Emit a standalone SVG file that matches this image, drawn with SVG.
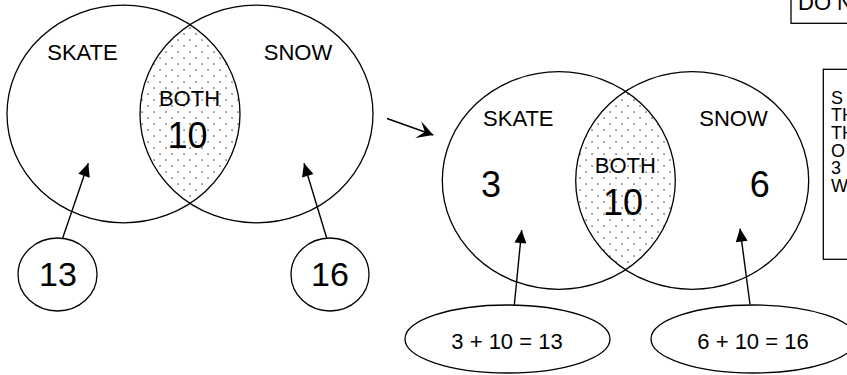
<svg xmlns="http://www.w3.org/2000/svg" width="847" height="375" viewBox="0 0 847 375">
  <style>
    .outline { fill: none; stroke: #000; stroke-width: 1.3; }
    .node { fill: #fff; stroke: #000; stroke-width: 1.3; }
    .lbl { font-family: "Liberation Sans", Arial, sans-serif; font-size: 22px; fill: #000; text-anchor: middle; }
    .num { font-family: "Liberation Sans", Arial, sans-serif; font-size: 36px; fill: #000; text-anchor: middle; }
    .cnum { font-family: "Liberation Sans", Arial, sans-serif; font-size: 34px; fill: #000; text-anchor: middle; }
    .note { font-family: "Liberation Sans", Arial, sans-serif; font-size: 18px; fill: #000; }
    .conn { fill: none; stroke: #000; stroke-width: 1.4; }
  </style>
  <defs>
    <pattern id="dots" patternUnits="userSpaceOnUse" x="0" y="0" width="12" height="12">
      <rect x="3.4" y="9.4" width="1.3" height="1.3" fill="#333"/>
      <rect x="9.4" y="3.4" width="1.3" height="1.3" fill="#333"/>
    </pattern>
    <clipPath id="clipL1"><ellipse cx="123.5" cy="114" rx="116.5" ry="108.8"/></clipPath>
    <clipPath id="clipR1"><ellipse cx="558.8" cy="180.5" rx="116.5" ry="108.8"/></clipPath>
    <marker id="tri" markerUnits="userSpaceOnUse" markerWidth="14" markerHeight="12" viewBox="0 0 12 11" refX="12" refY="5.5" orient="auto">
      <path d="M0,0 L12,5.5 L0,11 z" fill="#000"/>
    </marker>
    <marker id="stealth" markerUnits="userSpaceOnUse" markerWidth="18" markerHeight="20" viewBox="-17 -10 18 20" refX="0" refY="0" orient="auto">
      <path d="M0,0 L-16,-9 L-9,0 L-16,9 z" fill="#000"/>
    </marker>
  </defs>

  <!-- Left Venn diagram -->
  <g id="venn-left-both-shade">
    <ellipse cx="256.5" cy="114" rx="116.5" ry="108.8" fill="url(#dots)" clip-path="url(#clipL1)"/>
  </g>
  <g id="venn-left-skate">
    <ellipse class="outline" cx="123.5" cy="114" rx="116.5" ry="108.8"/>
    <text class="lbl" x="82.5" y="60">SKATE</text>
  </g>
  <g id="venn-left-snow">
    <ellipse class="outline" cx="256.5" cy="114" rx="116.5" ry="108.8"/>
    <text class="lbl" x="298" y="60">SNOW</text>
  </g>
  <g id="venn-left-both">
    <text class="lbl" x="189.5" y="106">BOTH</text>
    <text class="num" x="187.5" y="148">10</text>
  </g>
  <g id="circle-13">
    <ellipse class="node" cx="57.5" cy="274.5" rx="39.5" ry="36.5"/>
    <text class="cnum" x="58" y="286">13</text>
  </g>
  <g id="circle-16">
    <ellipse class="node" cx="330" cy="274.5" rx="39" ry="36.5"/>
    <text class="cnum" x="330" y="286">16</text>
  </g>

  <!-- Right Venn diagram -->
  <g id="venn-right-both-shade">
    <ellipse cx="692.2" cy="180.5" rx="116.5" ry="108.8" fill="url(#dots)" clip-path="url(#clipR1)"/>
  </g>
  <g id="venn-right-skate">
    <ellipse class="outline" cx="558.8" cy="180.5" rx="116.5" ry="108.8"/>
    <text class="lbl" x="518.3" y="126">SKATE</text>
    <text class="num" x="491" y="197">3</text>
  </g>
  <g id="venn-right-snow">
    <ellipse class="outline" cx="692.2" cy="180.5" rx="116.5" ry="108.8"/>
    <text class="lbl" x="733.5" y="126">SNOW</text>
    <text class="num" x="759.7" y="197">6</text>
  </g>
  <g id="venn-right-both">
    <text class="lbl" x="625.3" y="172.7">BOTH</text>
    <text class="num" x="623" y="215">10</text>
  </g>
  <g id="ellipse-13">
    <ellipse class="node" cx="507.5" cy="339" rx="102.5" ry="34"/>
    <text class="lbl" x="507" y="349">3 + 10 = 13</text>
  </g>
  <g id="ellipse-16">
    <ellipse class="node" cx="753.5" cy="339" rx="102.5" ry="34"/>
    <text class="lbl" x="753" y="349">6 + 10 = 16</text>
  </g>

  <!-- Notes -->
  <g id="note-top">
    <rect class="node" x="791" y="-10" width="100" height="33.3"/>
    <text class="lbl" x="798" y="10" style="text-anchor:start">DO N</text>
  </g>
  <g id="note-right">
    <rect class="node" x="823.3" y="69.3" width="60" height="190"/>
    <text class="note" x="831" y="103.5">S</text>
    <text class="note" x="831" y="121.2">TH</text>
    <text class="note" x="831" y="138.9">TH</text>
    <text class="note" x="831" y="156.6">O</text>
    <text class="note" x="831" y="174.3">3</text>
    <text class="note" x="831" y="192">W</text>
  </g>

  <!-- Connectors -->
  <g id="connectors">
    <line class="conn" x1="62.7" y1="238" x2="88.3" y2="163.3" marker-end="url(#tri)"/>
    <line class="conn" x1="326.7" y1="238" x2="304" y2="163.3" marker-end="url(#tri)"/>
    <line class="conn" x1="387" y1="118.5" x2="433.3" y2="135" marker-end="url(#stealth)"/>
    <line class="conn" x1="514.3" y1="305" x2="521.7" y2="230" marker-end="url(#tri)"/>
    <line class="conn" x1="750" y1="304.5" x2="740" y2="228.5" marker-end="url(#tri)"/>
  </g>
</svg>
